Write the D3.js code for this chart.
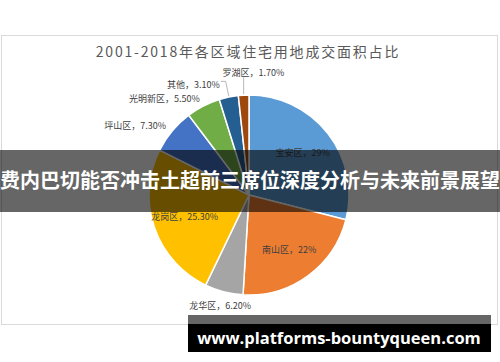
<!DOCTYPE html>
<html>
<head>
<meta charset="utf-8">
<script src="https://d3js.org/d3.v7.min.js"></script>
<style>
  body { margin: 0; background: #fff; }
  svg { display: block; }
</style>
</head>
<body>
<div id="chart"></div>
<script>
// data
const districts = ["宝安区", "南山区", "龙华区", "龙岗区", "坪山区", "光明新区", "其他", "罗湖区"];
const shares = [29, 22, 6.2, 25.3, 7.3, 5.5, 3.1, 1.7];
const shareLabels = ["29%", "22%", "6.20%", "25.30%", "7.30%", "5.50%", "3.10%", "1.70%"];
const colors = ["#5b9bd5", "#ed7d31", "#a5a5a5", "#ffc000", "#4472c4", "#70ad47", "#255e91", "#9e480e"];

const chartTitle = "2001-2018年各区域住宅用地成交面积占比";
const bannerText = "费内巴切能否冲击土超前三席位深度分析与未来前景展望";
const siteText = "www.platforms-bountyqueen.com";

const width = 500, height = 362;
const cx = 249, cy = 195, r = 100;

const svg = d3.select("#chart").append("svg")
    .attr("width", width)
    .attr("height", height);

// chart frame
svg.append("rect")
    .attr("x", 1.5).attr("y", 35.5)
    .attr("width", 496).attr("height", 289)
    .attr("fill", "#fff")
    .attr("stroke", "#d9d9d9");

svg.append("text")
    .attr("x", 248).attr("y", 57)
    .attr("text-anchor", "middle")
    .attr("font-family", "'Noto Sans CJK SC', sans-serif")
    .attr("font-size", 14)
    .attr("letter-spacing", 1.8)
    .attr("fill", "#595959")
    .text(chartTitle);

const data = districts.map((d, i) => ({ name: d, value: shares[i], label: shareLabels[i], color: colors[i] }));

const pie = d3.pie().sort(null).value(d => d.value);
const arc = d3.arc().innerRadius(0).outerRadius(r);
const inArc = d3.arc().innerRadius(r * 0.68).outerRadius(r * 0.68);
const nearArc = d3.arc().innerRadius(r * 1.08).outerRadius(r * 1.08);
const outArc = d3.arc().innerRadius(r * 1.15).outerRadius(r * 1.15);
const topArc = d3.arc().innerRadius(r * 1.22).outerRadius(r * 1.22);
const edgeArc = d3.arc().innerRadius(r).outerRadius(r);

const g = svg.append("g").attr("transform", `translate(${cx},${cy})`);
const arcs = pie(data);

function midAngle(d) { return (d.startAngle + d.endAngle) / 2; }
// where each label sits and how it is anchored
function labelPos(d) {
    if (d.data.value >= 20) return { p: inArc.centroid(d), anchor: "middle" };
    const s = Math.sin(midAngle(d)), c = Math.cos(midAngle(d));
    if (Math.abs(s) < 0.1 && c > 0) {
        // thin slice right at the top: label sits above, starting a bit to the left
        const p = topArc.centroid(d);
        return { p: [p[0] - 20, p[1]], anchor: "start", top: true };
    }
    if (Math.abs(s) < 0.3 && c < 0) return { p: outArc.centroid(d), anchor: "middle" };
    // thin slices get a short leader, so their label steps aside a little
    const thinSlice = d.data.value < 4;
    const p = thinSlice ? outArc.centroid(d) : nearArc.centroid(d);
    const shift = thinSlice ? 6 : 0;
    return s < 0 ? { p: [p[0] - shift, p[1] + shift / 3], anchor: "end" }
                 : { p: [p[0] + shift, p[1] + shift / 3], anchor: "start" };
}

g.selectAll("path")
    .data(arcs)
    .enter()
    .append("path")
    .attr("d", arc)
    .attr("fill", d => d.data.color)
    .attr("stroke", "#fff")
    .attr("stroke-width", 1.5);

// leader lines for the thin slices
const thin = arcs.filter(d => d.data.value < 4);
g.selectAll("polyline")
    .data(thin)
    .enter()
    .append("polyline")
    .attr("fill", "none")
    .attr("stroke", "#a6a6a6")
    .attr("stroke-width", 0.8)
    .attr("points", function (d) {
        const e = edgeArc.centroid(d);
        const lp = labelPos(d);
        if (lp.top) return [[e[0], e[1] - 1], [e[0], lp.p[1] + 4]].join(" ");
        return [[e[0], e[1] - 1], [lp.p[0] + 6, lp.p[1] - 3], [lp.p[0] + 1, lp.p[1] - 3]].join(" ");
    });

g.selectAll("text.lbl")
    .data(arcs)
    .enter()
    .append("text")
    .attr("class", "lbl")
    .attr("x", d => labelPos(d).p[0])
    .attr("y", d => labelPos(d).p[1])
    .attr("dy", "0.35em")
    .attr("text-anchor", d => labelPos(d).anchor)
    .attr("font-family", "'Noto Sans CJK SC', sans-serif")
    .attr("font-size", 9)
    .attr("fill", "#404040")
    .text(d => d.data.name + "，" + d.data.label);

// dark banner across the middle
svg.append("rect")
    .attr("x", 0).attr("y", 150)
    .attr("width", width).attr("height", 62)
    .attr("fill", "#000")
    .attr("fill-opacity", 0.6);

svg.append("text")
    .attr("x", width / 2).attr("y", 188)
    .attr("text-anchor", "middle")
    .attr("font-family", "'Noto Sans CJK SC', sans-serif")
    .attr("font-weight", "bold")
    .attr("font-size", 20)
    .attr("fill", "#fff")
    .text(bannerText);

// site strip at the bottom
svg.append("rect")
    .attr("x", 188).attr("y", 315)
    .attr("width", 303).attr("height", 9)
    .attr("fill", "#666");

svg.append("rect")
    .attr("x", 188).attr("y", 324)
    .attr("width", 303).attr("height", 28)
    .attr("fill", "#000");

svg.append("text")
    .attr("x", 339).attr("y", 344)
    .attr("text-anchor", "middle")
    .attr("font-family", "'Open Sans', sans-serif")
    .attr("font-weight", "bold")
    .attr("font-size", 16.5)
    .attr("fill", "#fff")
    .text(siteText);
</script>
</body>
</html>
